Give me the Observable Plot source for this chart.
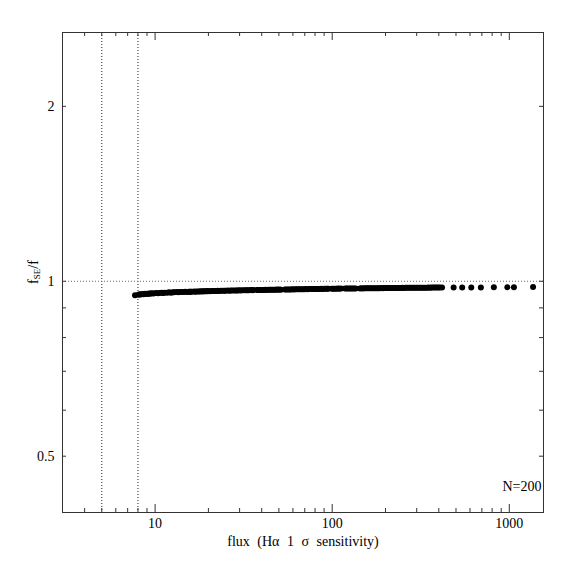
<!DOCTYPE html>
<html><head><meta charset="utf-8">
<script src="https://cdn.jsdelivr.net/npm/d3@7"></script>
<script src="https://cdn.jsdelivr.net/npm/@observablehq/plot@0.6"></script>
<style>body{margin:0;background:#fff}</style>
</head><body><div id="chart"></div>
<script>
const flux = [7.7,
8.05,8.2,8.3,8.5,8.6,8.8,9.0,9.2,9.3,9.45,9.6,9.8,
10.1,10.4,10.6,10.9,11.1,11.3,11.7,12.0,12.3,12.6,12.8,13.2,13.5,13.8,14.1,14.5,14.8,15.2,15.5,15.7,15.9,16.1,16.6,16.9,17.2,17.6,17.9,18.2,18.5,18.8,19.1,19.4,19.7,19.9,
20.3,20.8,21.2,21.7,22.1,22.6,23.0,23.5,24.1,24.6,25.0,25.7,26.3,26.8,27.4,28.1,28.7,29.2,29.8,30.4,31.1,31.9,32.6,33.2,33.9,34.7,35.5,35.9,37.6,37.9,38.5,39.3,40.2,41.1,41.9,42.8,43.7,44.5,45.3,46.2,47.1,47.9,48.8,49.6,
50.5,51.4,54.1,55.0,56.2,57.3,58.5,59.6,60.8,62.0,63.1,64.5,65.8,67.0,68.4,69.8,71.1,72.6,74.0,75.5,77.0,78.6,80.1,81.7,83.3,85.0,86.7,88.4,90.2,92.0,93.8,95.0,99.5,
101.5,103.6,105.7,107.8,110.0,112.2,118.0,120.4,122.8,125.3,127.8,130.4,133.0,135.7,143.5,146.4,149.3,152.3,155.4,158.5,161.7,164.9,168.2,171.6,175.0,178.5,182.1,185.7,189.4,193.2,196.5,199.0,
203,207,211,216,220,225,229,234,239,244,249,254,259,264,270,275,281,287,292,298,304,311,317,323,330,337,344,351,358,365,373,381,389,398,406,417,
485,542,610,691,818,975,1062,1362];

const ratio = [0.946,
0.948,0.950,0.949,0.951,0.950,0.952,0.951,0.953,0.952,0.953,0.954,0.953,
0.955,0.954,0.955,0.956,0.955,0.956,0.956,0.957,0.956,0.957,0.957,0.958,0.957,0.958,0.958,0.958,0.959,0.958,0.959,0.959,0.959,0.959,0.960,0.959,0.960,0.960,0.960,0.961,0.960,0.961,0.961,0.961,0.961,0.962,
0.961,0.962,0.962,0.962,0.962,0.963,0.962,0.963,0.963,0.963,0.963,0.964,0.963,0.964,0.964,0.964,0.964,0.964,0.965,0.964,0.965,0.965,0.965,0.965,0.965,0.966,0.965,0.966,0.966,0.966,0.966,0.966,0.966,0.966,0.967,0.966,0.967,0.967,0.967,0.967,0.967,0.967,0.968,0.967,
0.968,0.967,0.968,0.968,0.968,0.968,0.968,0.969,0.968,0.969,0.969,0.969,0.969,0.969,0.969,0.969,0.970,0.969,0.970,0.970,0.970,0.970,0.970,0.970,0.970,0.970,0.971,0.970,0.971,0.971,0.971,0.971,0.971,
0.971,0.971,0.971,0.972,0.971,0.972,0.972,0.972,0.972,0.972,0.972,0.972,0.972,0.972,0.972,0.973,0.972,0.973,0.973,0.973,0.973,0.973,0.973,0.973,0.973,0.973,0.973,0.973,0.974,0.973,0.974,0.974,
0.974,0.974,0.974,0.974,0.974,0.974,0.974,0.974,0.974,0.974,0.975,0.974,0.975,0.975,0.975,0.975,0.975,0.975,0.975,0.975,0.975,0.975,0.975,0.975,0.975,0.975,0.975,0.976,0.975,0.976,0.976,0.976,0.976,0.976,0.976,0.976,
0.976,0.976,0.976,0.976,0.977,0.977,0.977,0.978];

const xMajorTicks = [10, 100, 1000];
const xMinorTicks = [3,4,5,6,7,8,9,20,30,40,50,60,70,80,90,200,300,400,500,600,700,800,900];
const yMajorTicks = [0.5, 1, 2];
const yMinorTicks = [0.6, 0.7, 0.8, 0.9];
const xLimitLines = [5, 8];
const yRefLine = [1];
const xTitle = "flux (Hα 1 σ sensitivity)";
const nLabel = "N=200";

const data = flux.map((f, i) => ({flux: f, ratio: ratio[i]}));

const W = 574, H = 574, mL = 62, mR = 31, mT = 32, mB = 62;
const frameW = W - mL - mR, frameH = H - mT - mB;
const font = "'Liberation Serif', 'DejaVu Serif', serif";

const chart = Plot.plot({
  width: W, height: H,
  marginLeft: mL, marginRight: mR, marginTop: mT, marginBottom: mB,
  style: {fontFamily: font, fontSize: "14px", background: "white", color: "black"},
  x: {type: "log", domain: [3, 1560], ticks: xMajorTicks, tickSize: 0, tickPadding: 6, tickFormat: d => String(d), label: null},
  y: {type: "log", domain: [0.4, 2.68], ticks: yMajorTicks, tickSize: 0, tickPadding: 8, tickFormat: d => String(d), label: null},
  marks: [
    Plot.ruleX(xLimitLines, {x: d => d, stroke: "#222", strokeDasharray: "1,2"}),
    Plot.ruleY(yRefLine, {y: d => d, stroke: "#666", strokeDasharray: "1,2"}),
    Plot.tickX(xMajorTicks, {x: d => d, insetTop: frameH - 8, stroke: "#333"}),
    Plot.tickX(xMajorTicks, {x: d => d, insetBottom: frameH - 8, stroke: "#333"}),
    Plot.tickX(xMinorTicks, {x: d => d, insetTop: frameH - 4, stroke: "#333"}),
    Plot.tickX(xMinorTicks, {x: d => d, insetBottom: frameH - 4, stroke: "#333"}),
    Plot.tickY(yMajorTicks.concat(yMinorTicks), {y: d => d, insetRight: frameW - 4, stroke: "#333"}),
    Plot.tickY(yMajorTicks.concat(yMinorTicks), {y: d => d, insetLeft: frameW - 4, stroke: "#333"}),
    Plot.frame({stroke: "#333"}),
    Plot.dot(data, {x: "flux", y: "ratio", r: 3, fill: "black", stroke: "none"}),
    Plot.text([nLabel], {text: d => d, frameAnchor: "bottom-right", textAnchor: "end", dx: -2, dy: -22, fontSize: 14}),
    Plot.text([xTitle], {text: d => d, frameAnchor: "bottom", dy: 33, fontSize: 14})
  ]
});

document.getElementById("chart").appendChild(chart);

const svg = d3.select(chart.tagName.toLowerCase() === "svg" ? chart : chart.querySelector("svg"));
svg.selectAll("text").filter(function() { return this.textContent === xTitle; }).style("word-spacing", "4px");

const t = svg.append("text")
  .attr("transform", `translate(38,${mT + frameH / 2}) rotate(-90)`)
  .attr("text-anchor", "middle")
  .attr("font-family", font)
  .attr("font-size", 14)
  .attr("fill", "black");
t.append("tspan").text("f");
t.append("tspan").attr("font-size", 9).attr("dy", 2).text("SE");
t.append("tspan").attr("dy", -2).text("/f");
</script>
</body></html>
